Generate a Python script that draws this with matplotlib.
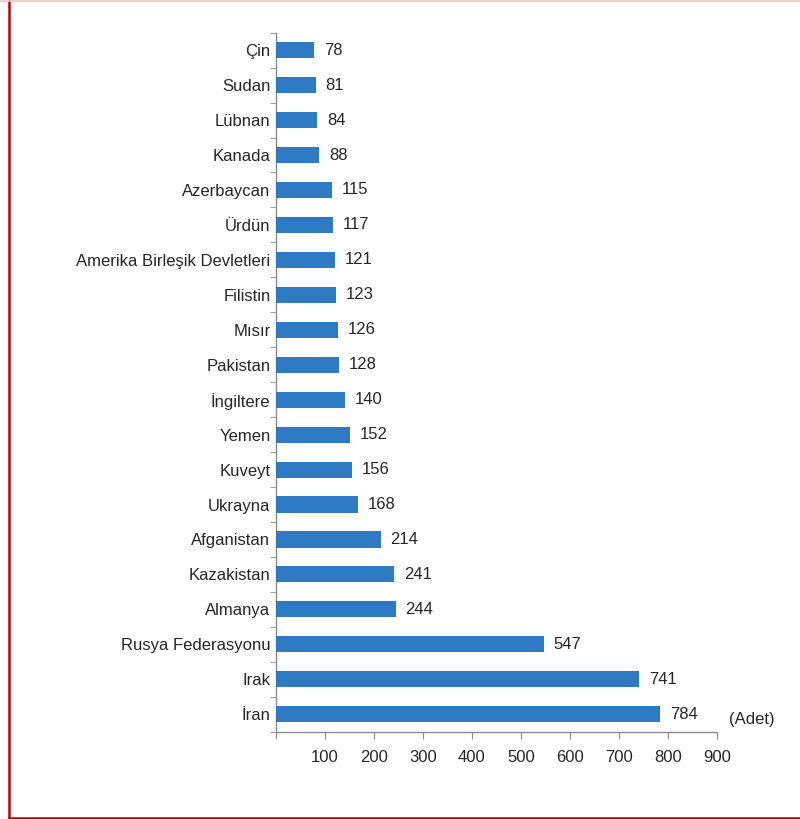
import matplotlib
matplotlib.use("Agg")
import matplotlib.pyplot as plt
from matplotlib.lines import Line2D

plt.rcParams['font.family'] = ['Liberation Sans Narrow', 'Liberation Sans', 'DejaVu Sans']

# data, top to bottom as in the chart
countries = ["Çin", "Sudan", "Lübnan", "Kanada", "Azerbaycan", "Ürdün",
             "Amerika Birleşik Devletleri", "Filistin", "Mısır", "Pakistan",
             "İngiltere", "Yemen", "Kuveyt", "Ukrayna", "Afganistan",
             "Kazakistan", "Almanya", "Rusya Federasyonu", "Irak", "İran"]
values = [78, 81, 84, 88, 115, 117, 121, 123, 126, 128,
          140, 152, 156, 168, 214, 241, 244, 547, 741, 784]
xticks = [0, 100, 200, 300, 400, 500, 600, 700, 800, 900]
xticklabels = ["", "100", "200", "300", "400", "500", "600", "700", "800", "900"]

bar_color = "#2E7BC3"
axis_color = "#8C8C8C"
text_color = "#262626"
fs = 12

fig = plt.figure(figsize=(8, 8.19), dpi=100)
ax = fig.add_axes([276 / 800, 1 - 731.7 / 819, (717 - 276) / 800, (731.7 - 32.7) / 819])

ypos = list(range(len(countries)))
ax.barh(ypos, values, height=0.46, color=bar_color, zorder=3)

for y, v in zip(ypos, values):
    ax.annotate(str(v), (v, y), xytext=(7, 0), textcoords="offset points",
                va="center", ha="left", fontsize=fs, color=text_color)

ax.set_xlim(0, 900)
ax.set_ylim(len(countries) - 0.5, -0.5)
ax.set_xticks(xticks)
ax.set_xticklabels(xticklabels)
ax.set_yticks(ypos)
ax.set_yticklabels(countries)
# y ticks sit between bars
ax.set_yticks([i - 0.5 for i in range(len(countries) + 1)], minor=True)
ax.tick_params(axis="y", which="major", length=0, pad=4, labelsize=fs, labelcolor=text_color)
ax.tick_params(axis="y", which="minor", length=4, color=axis_color, direction="out")
ax.tick_params(axis="x", length=5, color=axis_color, direction="out", pad=8,
               labelsize=fs, labelcolor=text_color)

for s in ["top", "right"]:
    ax.spines[s].set_visible(False)
for s in ["left", "bottom"]:
    ax.spines[s].set_color(axis_color)
    ax.spines[s].set_linewidth(1)

ax.text(1.08, 0.017, "(Adet)", transform=ax.transAxes, ha="center", va="center",
        fontsize=fs, color=text_color)

# red frame around the picture
fig.add_artist(Line2D([8.5 / 800, 8.5 / 800], [1 - 817.5 / 819, 1], color="#C00000", lw=1.8))
fig.add_artist(Line2D([8.5 / 800, 1], [1 - 817.5 / 819, 1 - 817.5 / 819], color="#C00000", lw=1.8))
fig.add_artist(Line2D([0, 1], [1 - 1 / 819, 1 - 1 / 819], color="#F2C4C4", lw=1.2))

fig.savefig("out.png", dpi=100)
